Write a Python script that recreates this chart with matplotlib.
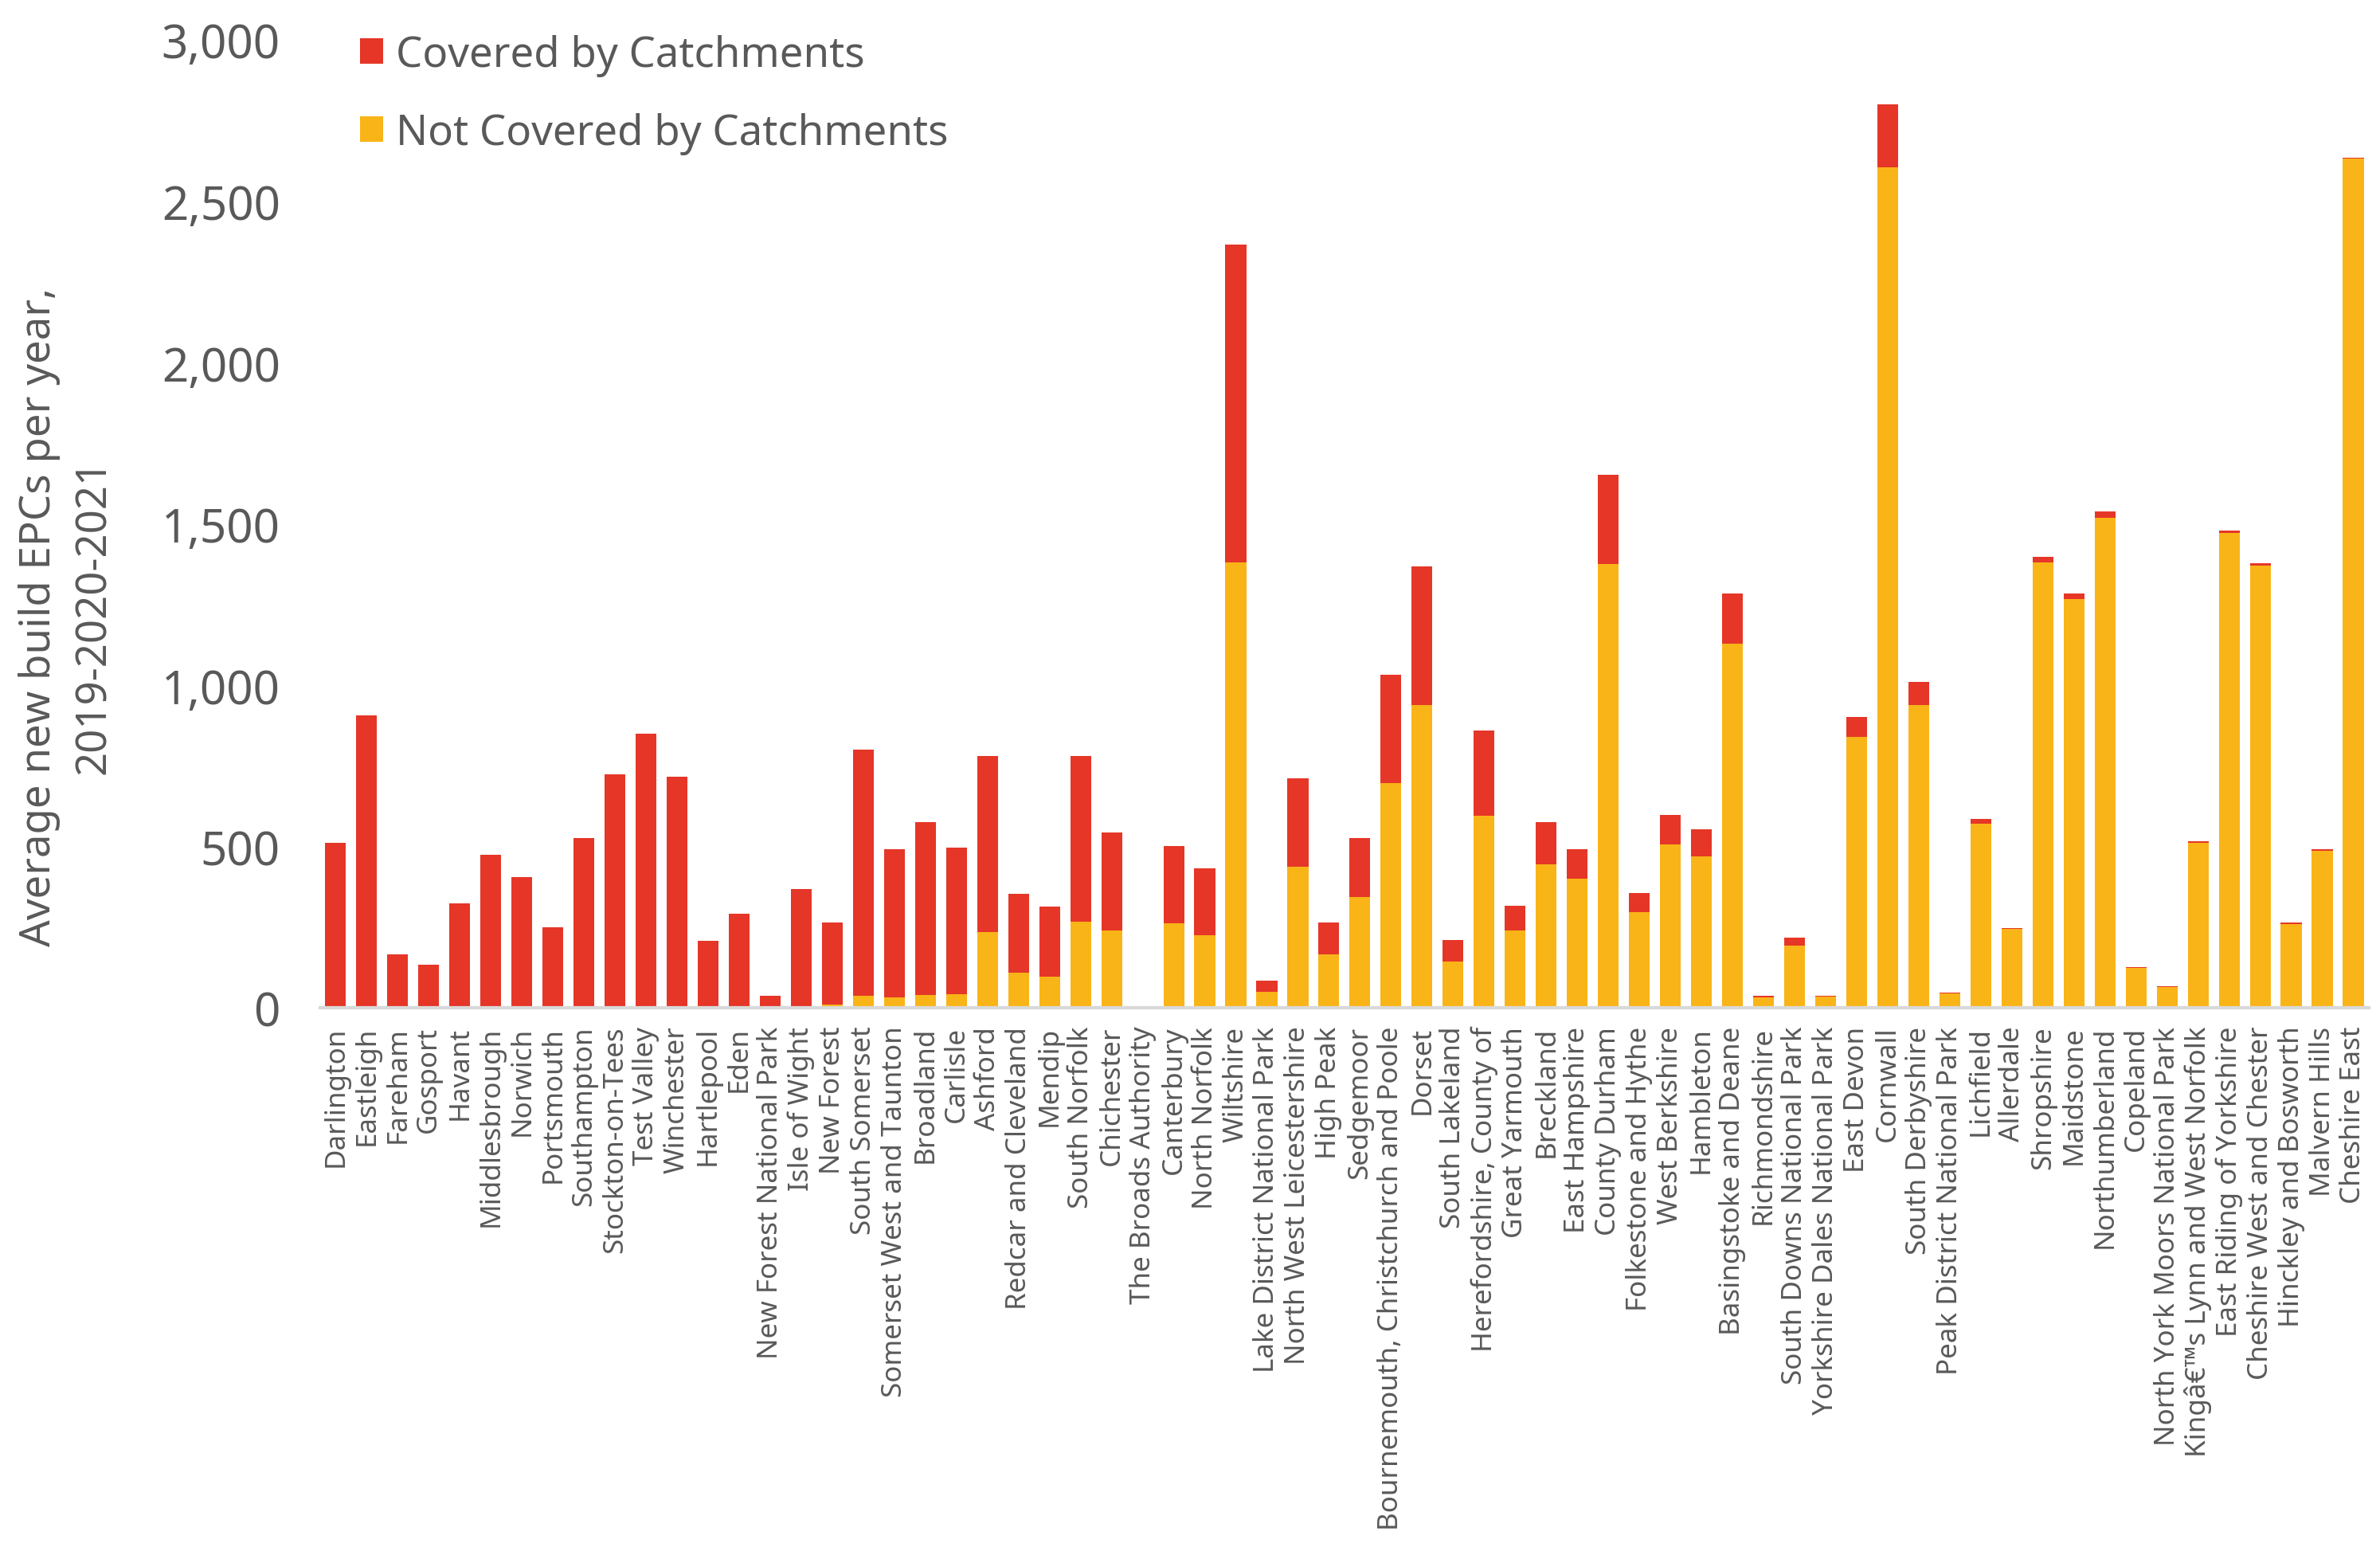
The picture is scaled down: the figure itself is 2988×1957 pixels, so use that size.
import numpy as np
import matplotlib.pyplot as plt

plt.rcParams['font.family'] = ['Noto Sans', 'DejaVu Sans']

areas = [
    "Darlington", "Eastleigh", "Fareham", "Gosport", "Havant", "Middlesbrough",
    "Norwich", "Portsmouth", "Southampton", "Stockton-on-Tees", "Test Valley",
    "Winchester", "Hartlepool", "Eden", "New Forest National Park", "Isle of Wight",
    "New Forest", "South Somerset", "Somerset West and Taunton", "Broadland",
    "Carlisle", "Ashford", "Redcar and Cleveland", "Mendip", "South Norfolk",
    "Chichester", "The Broads Authority", "Canterbury", "North Norfolk", "Wiltshire",
    "Lake District National Park", "North West Leicestershire", "High Peak",
    "Sedgemoor", "Bournemouth, Christchurch and Poole", "Dorset", "South Lakeland",
    "Herefordshire, County of", "Great Yarmouth", "Breckland", "East Hampshire",
    "County Durham", "Folkestone and Hythe", "West Berkshire", "Hambleton",
    "Basingstoke and Deane", "Richmondshire", "South Downs National Park",
    "Yorkshire Dales National Park", "East Devon", "Cornwall", "South Derbyshire",
    "Peak District National Park", "Lichfield", "Allerdale", "Shropshire",
    "Maidstone", "Northumberland", "Copeland", "North York Moors National Park",
    "Kingâ€™s Lynn and West Norfolk", "East Riding of Yorkshire",
    "Cheshire West and Chester", "Hinckley and Bosworth", "Malvern Hills",
    "Cheshire East",
]

# average new build EPCs per year, 2019-2021
total = [
    513, 908, 167, 135, 325, 476, 407, 251, 528, 723, 851, 716, 209, 293, 39,
    369, 266, 800, 491, 575, 496, 780, 355, 315, 782, 545, 7, 503, 434, 2366,
    86, 713, 266, 528, 1032, 1369, 212, 859, 318, 575, 491, 1651, 357, 599, 553,
    1284, 39, 219, 39, 901, 2800, 1010, 49, 587, 249, 1399, 1284, 1538, 128, 68,
    518, 1479, 1378, 264, 492, 2634,
]
not_covered = [
    0, 0, 0, 0, 0, 0, 0, 0, 0, 0, 0, 0, 0, 0, 0,
    7, 12, 39, 34, 41, 44, 236, 110, 98, 268, 240, 0, 262, 226, 1380,
    51, 439, 167, 343, 698, 938, 145, 597, 241, 446, 402, 1377, 298, 508, 471,
    1128, 34, 194, 36, 839, 2605, 940, 46, 572, 245, 1380, 1266, 1520, 125, 66,
    513, 1471, 1371, 261, 488, 2632,
]
covered = [t - n for t, n in zip(total, not_covered)]

red = "#e53628"
yellow = "#f9b418"
grey = "#595959"

fig = plt.figure(figsize=(14.94, 9.79), dpi=200)
ax = fig.add_axes([0.1345, 0.3532, 0.8608, 0.6208])

x = np.arange(len(areas))
b1 = ax.bar(x, not_covered, width=0.67, color=yellow, label="Not Covered by Catchments")
b2 = ax.bar(x, covered, width=0.67, bottom=not_covered, color=red, label="Covered by Catchments")

ax.set_xlim(-0.5, len(areas) - 0.5)
ax.set_ylim(0, 3000)
ax.set_yticks(range(0, 3001, 500))
ax.set_yticklabels([f"{v:,}" for v in range(0, 3001, 500)], fontsize=21, color=grey)
ax.set_xticks(x)
ax.set_xticklabels(areas, rotation=90, fontsize=12.6, color=grey)
ax.tick_params(axis="y", length=0, pad=18)
ax.tick_params(axis="x", length=0, pad=8)

for s in ["top", "right", "left"]:
    ax.spines[s].set_visible(False)
ax.spines["bottom"].set_color("#d9d9d9")
ax.spines["bottom"].set_linewidth(1.5)

ax.set_ylabel("Average new build EPCs per year,\n2019-2020-2021", fontsize=19,
              color=grey, linespacing=1.38)
ax.yaxis.set_label_coords(-0.1, 0.405)

leg = ax.legend([b2, b1], ["Covered by Catchments", "Not Covered by Catchments"],
                loc="upper left", bbox_to_anchor=(0.001, 1.045), frameon=False,
                fontsize=19, handlelength=0.55, handleheight=0.55, handletextpad=0.3,
                labelspacing=0.85, labelcolor=grey)

fig.savefig("out.png", dpi=200)
